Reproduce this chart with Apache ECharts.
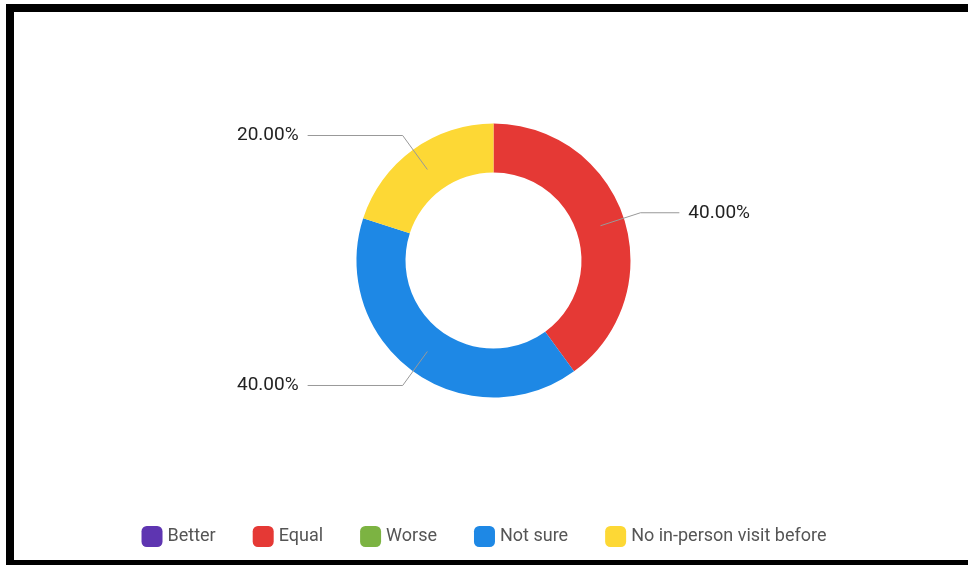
<!DOCTYPE html>
<html>
<head>
<meta charset="utf-8">
<script src="https://cdn.jsdelivr.net/npm/echarts@6/dist/echarts.min.js"></script>
<style>
  html, body { margin: 0; padding: 0; background: #fff; overflow: hidden; }
  .frame {
    position: absolute;
    left: 6px;
    top: 4px;
    width: 954px;
    height: 548px;
    border-top: 8px solid #000;
    border-left: 8px solid #000;
    border-bottom: 10px solid #000;
  }
  #chart {
    position: absolute;
    left: 0;
    top: 0;
    width: 968px;
    height: 565px;
  }
</style>
</head>
<body>
<div class="frame"></div>
<div id="chart"></div>
<script>
// 类别与数值（百分比）
const categories = ['Better', 'Equal', 'Worse', 'Not sure', 'No in-person visit before']
const values = [0, 40, 0, 40, 20]
const colors = ['#5e35b1', '#e53935', '#7cb342', '#1e88e5', '#fdd835']

const total = values.reduce((a, b) => a + b, 0)

// 环形图本体
const ringData = categories.map((name, i) => ({
  name: name,
  value: values[i],
  itemStyle: { color: colors[i] }
}))

// 透明的标签层，让引导线从环的中间开始
const labelData = categories.map((name, i) => ({
  name: name,
  value: values[i],
  itemStyle: { color: 'rgba(0,0,0,0)' },
  label: { show: values[i] > 0 },
  labelLine: { show: values[i] > 0 }
}))

const chart = echarts.init(document.getElementById('chart'))

chart.setOption({
  animation: false,
  color: colors,
  legend: {
    data: categories,
    bottom: 13,
    left: 'center',
    icon: 'roundRect',
    itemWidth: 21,
    itemHeight: 21,
    itemGap: 37,
    itemStyle: { borderWidth: 0 },
    textStyle: {
      color: '#555',
      fontSize: 18,
      fontFamily: 'Roboto'
    }
  },
  series: [
    {
      type: 'pie',
      left: 212,
      width: 563,
      top: 0,
      height: 521,
      radius: [88, 137],
      startAngle: 90,
      silent: true,
      label: { show: false },
      labelLine: { show: false },
      data: ringData
    },
    {
      type: 'pie',
      left: 212,
      width: 563,
      top: 0,
      height: 521,
      radius: [0, 112.5],
      startAngle: 90,
      silent: true,
      z: 3,
      label: {
        alignTo: 'edge',
        edgeDistance: 25,
        distanceToLabelLine: 9,
        color: '#222',
        fontSize: 19,
        fontFamily: 'Roboto',
        formatter: p => (p.value / total * 100).toFixed(2) + '%'
      },
      labelLine: {
        length: 42,
        length2: 30,
        lineStyle: { color: '#999', width: 1 }
      },
      data: labelData
    }
  ]
})
</script>
</body>
</html>
